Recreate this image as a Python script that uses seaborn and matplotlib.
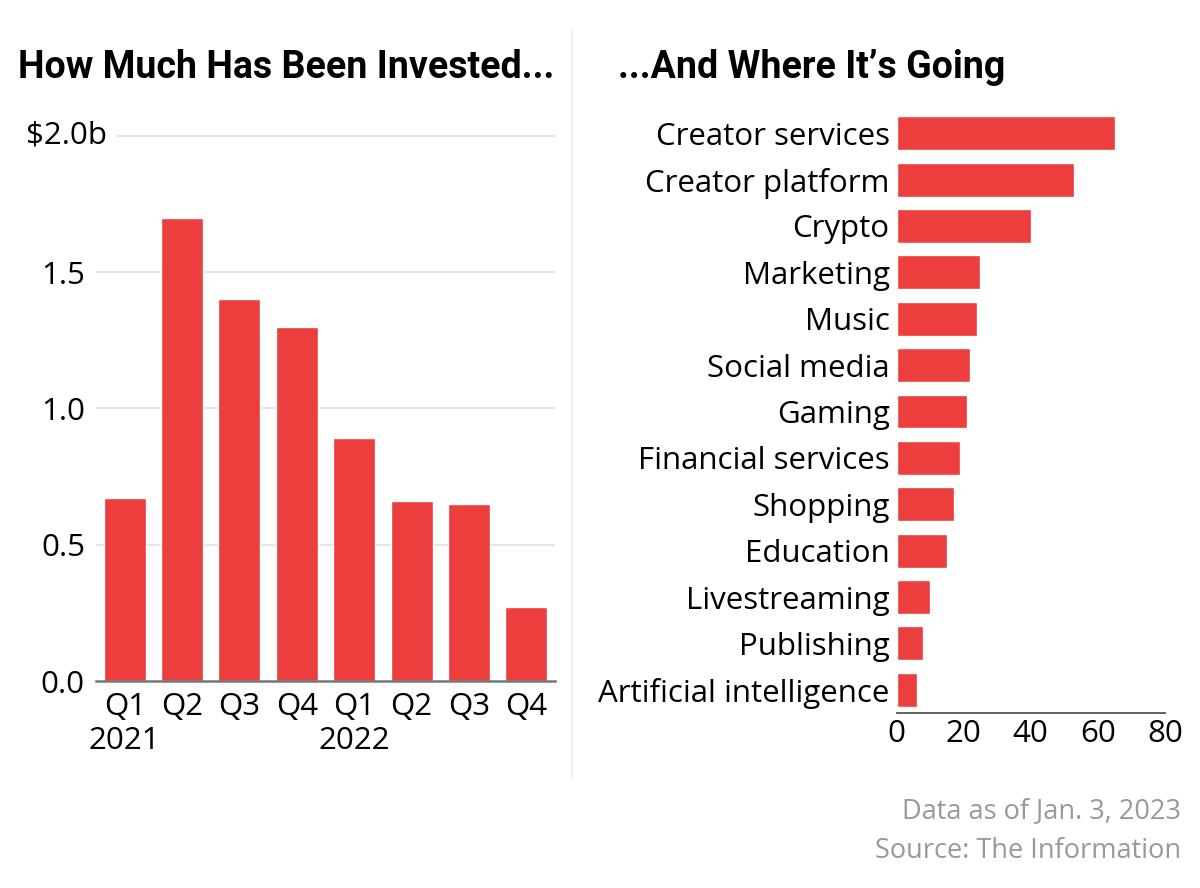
import matplotlib
matplotlib.use("Agg")
import matplotlib.pyplot as plt
import matplotlib.transforms as mtransforms
from matplotlib.lines import Line2D
import pandas as pd
import seaborn as sns

# Data
periods = ['2021 Q1', '2021 Q2', '2021 Q3', '2021 Q4',
           '2022 Q1', '2022 Q2', '2022 Q3', '2022 Q4']
period_labels = ['Q1\n2021', 'Q2', 'Q3', 'Q4', 'Q1\n2022', 'Q2', 'Q3', 'Q4']
invested = [0.67, 1.70, 1.40, 1.30, 0.89, 0.66, 0.65, 0.27]

categories = ['Creator services', 'Creator platform', 'Crypto', 'Marketing',
              'Music', 'Social media', 'Gaming', 'Financial services',
              'Shopping', 'Education', 'Livestreaming', 'Publishing',
              'Artificial intelligence']
deals = [65, 53, 40, 25, 24, 22, 21, 19, 17, 15, 10, 8, 6]

y_ticks = [0.0, 0.5, 1.0, 1.5]
y_tick_labels = ['0.0', '0.5', '1.0', '1.5']
x_ticks = [0, 20, 40, 60, 80]

RED = '#ec3e3c'
TEXT_FONT = ['Open Sans', 'DejaVu Sans']
TITLE_FONT = ['Roboto', 'DejaVu Sans']
FS = 22.5

sns.set_theme(style='white')
plt.rcParams['font.family'] = TEXT_FONT
plt.rcParams['text.color'] = 'black'

fig = plt.figure(figsize=(12, 8.88), dpi=100)
W, H = 1200, 888

def px_axes(left, top, right, bottom):
    return fig.add_axes([left / W, 1 - bottom / H, (right - left) / W, (bottom - top) / H])

# Left: quarterly investment
ax1 = px_axes(96, 136, 555, 681)
df1 = pd.DataFrame({'period': periods, 'invested': invested})
sns.barplot(data=df1, x='period', y='invested', ax=ax1, color=RED,
            saturation=1, width=0.73)
ax1.set_xlim(-0.5, 7.5)
ax1.set_ylim(0, 2.0)
ax1.set_xlabel('')
ax1.set_ylabel('')
for v in y_ticks[1:]:
    ax1.axhline(v, color='#e6e6e6', lw=1.5, zorder=0)
ax1.axhline(2.0, xmin=21 / 459, color='#e6e6e6', lw=1.5, zorder=0, clip_on=False)
ax1.set_yticks(y_ticks)
ax1.set_yticklabels(y_tick_labels, fontsize=FS)
ax1.set_xticks(range(len(periods)))
ax1.set_xticklabels(period_labels, fontsize=FS, linespacing=1.15)
ax1.tick_params(axis='both', length=0)
ax1.tick_params(axis='y', pad=8)
ax1.tick_params(axis='x', pad=8)
trans = mtransforms.blended_transform_factory(ax1.transAxes, ax1.transData)
ax1.text(11 / 459, 2.0, r'\$2.0b', transform=trans, ha='right', va='center',
         fontsize=FS, color='black')
for side in ['top', 'right', 'left']:
    ax1.spines[side].set_visible(False)
ax1.spines['bottom'].set_color('#777777')
ax1.spines['bottom'].set_linewidth(1.8)
for lab in ax1.get_xticklabels() + ax1.get_yticklabels():
    lab.set_color('black')

# Right: where it's going
ax2 = px_axes(896.5, 110, 1165, 713)
df2 = pd.DataFrame({'category': categories, 'deals': deals})
sns.barplot(data=df2, x='deals', y='category', orient='h', ax=ax2, color=RED,
            saturation=1, width=0.73)
ax2.set_xlim(0, 80)
ax2.set_ylim(len(categories) - 0.5, -0.5)
ax2.set_xlabel('')
ax2.set_ylabel('')
ax2.set_xticks(x_ticks)
ax2.tick_params(axis='x', direction='in', length=11, width=1.3, color='#555555',
                labelsize=FS, pad=4)
ax2.tick_params(axis='y', length=0, labelsize=FS, pad=5)
for side in ['top', 'right', 'left']:
    ax2.spines[side].set_visible(False)
ax2.spines['bottom'].set_color('#555555')
ax2.spines['bottom'].set_linewidth(1.3)
for lab in ax2.get_xticklabels() + ax2.get_yticklabels():
    lab.set_color('black')

# Titles
fig.text(18 / W, 1 - 78 / H, 'How Much Has Been Invested...', family=TITLE_FONT,
         fontsize=27, fontweight='bold', ha='left', va='baseline', color='black')
fig.text(618 / W, 1 - 78 / H, '...And Where It\u2019s Going', family=TITLE_FONT,
         fontsize=27, fontweight='bold', ha='left', va='baseline', color='black')

# Separator
fig.add_artist(Line2D([572 / W, 572 / W], [1 - 30 / H, 1 - 778 / H],
                      transform=fig.transFigure, color='#eeeeee', lw=1.5))

# Footer
fig.text(1181 / W, 1 - 818 / H, 'Data as of Jan. 3, 2023', ha='right', va='baseline',
         fontsize=19.5, color='#999999')
fig.text(1181 / W, 1 - 858 / H, 'Source: The Information', ha='right', va='baseline',
         fontsize=19.5, color='#999999')

fig.savefig('out.png', dpi=100, facecolor='white')
